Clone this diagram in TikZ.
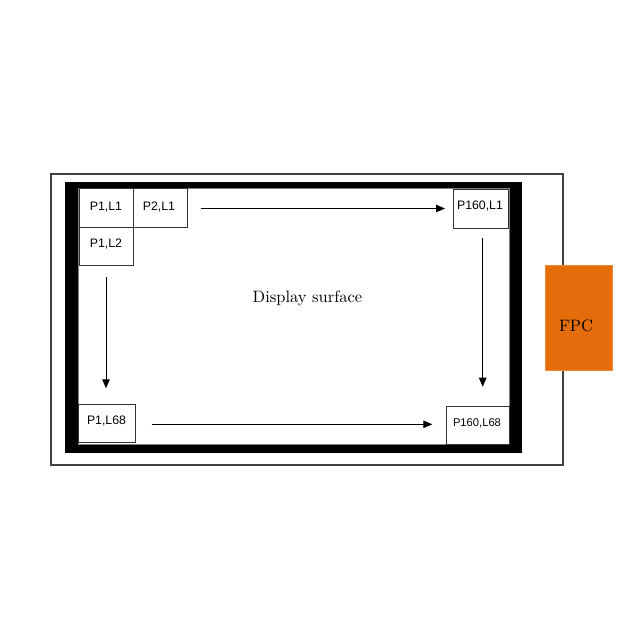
\documentclass[tikz,border=0pt]{standalone}
\usepackage{fontspec}
\newfontfamily\cellfont{Liberation Sans}
\newfontfamily\lmten{lmroman10-regular.otf}
\usetikzlibrary{arrows.meta,calc}
\definecolor{fpcorange}{HTML}{E46C0A}
\definecolor{fpcedge}{HTML}{F08A30}
\begin{document}
\begin{tikzpicture}[x=1pt,y=-1pt,
  cell/.style={draw=black!80, line width=0.9pt, fill=white, inner sep=0pt, outer sep=0pt, anchor=north west},
  celltext/.style={font=\cellfont\fontsize{12.3}{14}\selectfont, inner sep=0pt, anchor=base},
  arr/.style={line width=1pt, -{Triangle[length=9pt,width=7.5pt]}},
  serif/.style={font=\lmten\fontsize{16.5}{20}\selectfont, inner sep=0pt, anchor=base}
]
\useasboundingbox[fill=white] (0,0) rectangle (640,640);
% outer board
\draw[black!75, line width=1.1pt] (51,174) rectangle (563,465);
% black frame
\fill[black] (65,181.5) rectangle (522,453);
\filldraw[fill=white, draw=black!50, line width=0.7pt] (78,188.5) rectangle (509.5,444);
% FPC
\node[draw=fpcedge, fill=fpcorange, line width=0.7pt, minimum width=67pt, minimum height=105.7pt, inner sep=0pt] (fpc) at (579.2,317.85) {};
\node[serif] (fpclabel) at (576,331.7) {FPC};
% cells
\node[cell, minimum width=54pt, minimum height=39pt] (p11) at (79,188) {};
\node[cell, minimum width=54pt, minimum height=39pt] (p21) at (133,188) {};
\node[cell, minimum width=54pt, minimum height=38pt] (p12) at (79,227) {};
\node[cell, minimum width=55pt, minimum height=39pt] (p1601) at (453,189) {};
\node[cell, minimum width=57pt, minimum height=38pt] (p168) at (78,404) {};
\node[cell, minimum width=63pt, minimum height=38pt] (p16068) at (446,406) {};
\node[celltext] (t11) at ($(p11.center)+(0,2.5)$) {P1,L1};
\node[celltext] (t21) at ($(p21.center)+(-1,2.5)$) {P2,L1};
\node[celltext] (t12) at ($(p12.center)+(0,1.7)$) {P1,L2};
\node[celltext] (t1601) at ($(p1601.center)+(-0.5,0.8)$) {P160,L1};
\node[celltext] (t168) at ($(p168.center)+(0,1)$) {P1,L68};
\node[celltext, font=\cellfont\fontsize{11.2}{13}\selectfont] (t16068) at ($(p16068.center)+(-0.5,1.2)$) {P160,L68};
% display surface label
\node[serif] (ds) at (307.5,302.7) {Display surface};
% arrows
\draw[arr, shorten <=13.7pt, shorten >=8pt] (p21.east |- p1601.west) -- (p1601.west);
\draw[arr, shorten <=11.7pt, shorten >=15.7pt] (p12.south) -- (p12.south |- p168.north);
\coordinate (rtop) at ($(p1601.south)+(2.2,9.7)$);
\coordinate (rbot) at (rtop |- p16068.north);
\draw[arr, shorten >=19.3pt] (rtop) -- (rbot);
\coordinate (bstart) at ($(p168.east)+(16.7,1.3)$);
\coordinate (bend) at (bstart -| p16068.west);
\draw[arr, shorten >=13.7pt] (bstart) -- (bend);
\end{tikzpicture}
\end{document}
